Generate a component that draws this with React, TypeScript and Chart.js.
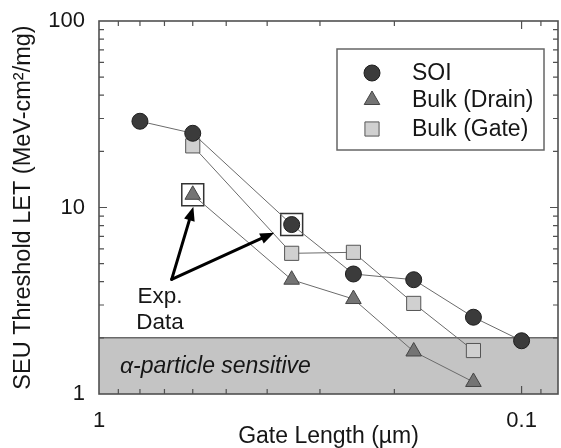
import React, { useEffect, useRef } from "react";
import { Chart, registerables } from "chart.js";

Chart.register(...registerables);

// ---- data ----
const soiGateLength = [0.8, 0.6, 0.35, 0.25, 0.18, 0.13, 0.1];
const soiLET = [29, 25, 8.1, 4.4, 4.1, 2.58, 1.93];
const bulkGateLength = [0.6, 0.35, 0.25, 0.18, 0.13];
const bulkDrainLET = [11.7, 4.1, 3.23, 1.69, 1.16];
const bulkGateLET = [21.4, 5.68, 5.75, 3.06, 1.71];
const expGateLength = [0.6, 0.35];
const expLET = [11.7, 8.1];
const seriesNames = ["SOI", "Bulk (Drain)", "Bulk (Gate)"];
const xTickValues = [1, 0.1];
const yTickValues = [1, 10, 100];
const alphaBand = [1, 2];
const alphaLabel = "α-particle sensitive";
const expLabelLines = ["Exp.", "Data"];
const expLabelAnchor = [0.717, 3.32, 2.4]; // x, y line1, y line2
const arrowOrigin = [0.673, 4.12];
const arrowTips = [
  [0.598, 10.1],
  [0.385, 7.33],
];

const FONT = "'Liberation Sans', Arial, Helvetica, sans-serif";
const TEXT = "#161616";

const styles = [
  { style: "circle", r: 8, fill: "#3b3b3b", stroke: "#1e1e1e" },
  { style: "triangle", r: 9, fill: "#747474", stroke: "#444" },
  { style: "rect", r: 10, fill: "#d0d0d0", stroke: "#555" },
];

function drawMarker(ctx: CanvasRenderingContext2D, s: any, x: number, y: number) {
  ctx.save();
  ctx.fillStyle = s.fill;
  ctx.strokeStyle = s.stroke;
  ctx.lineWidth = 1;
  ctx.beginPath();
  if (s.style === "circle") {
    ctx.arc(x, y, s.r, 0, Math.PI * 2);
  } else if (s.style === "triangle") {
    for (let i = 0; i < 3; i++) {
      const a = (i * 2 * Math.PI) / 3;
      const px = x + Math.sin(a) * s.r;
      const py = y - Math.cos(a) * s.r;
      if (i === 0) ctx.moveTo(px, py);
      else ctx.lineTo(px, py);
    }
    ctx.closePath();
  } else {
    const h = s.r * Math.SQRT1_2;
    ctx.rect(x - h, y - h, 2 * h, 2 * h);
  }
  ctx.fill();
  ctx.stroke();
  ctx.restore();
}

function drawArrow(ctx: CanvasRenderingContext2D, x0: number, y0: number, x1: number, y1: number) {
  const ang = Math.atan2(y1 - y0, x1 - x0);
  const head = 14;
  const half = 5.5;
  const bx = x1 - Math.cos(ang) * head;
  const by = y1 - Math.sin(ang) * head;
  ctx.save();
  ctx.strokeStyle = "#000";
  ctx.fillStyle = "#000";
  ctx.lineWidth = 3;
  ctx.lineCap = "round";
  ctx.beginPath();
  ctx.moveTo(x0, y0);
  ctx.lineTo(bx, by);
  ctx.stroke();
  ctx.beginPath();
  ctx.moveTo(x1, y1);
  ctx.lineTo(bx + Math.sin(ang) * half, by - Math.cos(ang) * half);
  ctx.lineTo(bx - Math.sin(ang) * half, by + Math.cos(ang) * half);
  ctx.closePath();
  ctx.fill();
  ctx.restore();
}

const decorPlugin = {
  id: "decor",
  beforeDatasetsDraw(chart: any) {
    const { ctx, chartArea: a, scales } = chart;
    const y = scales.y;
    const yTop = y.getPixelForValue(alphaBand[1]);
    const yBot = y.getPixelForValue(alphaBand[0]);
    ctx.save();
    ctx.fillStyle = "#c4c4c4";
    ctx.fillRect(a.left, yTop, a.right - a.left, yBot - yTop);
    ctx.strokeStyle = "#6a6a6a";
    ctx.lineWidth = 1.5;
    ctx.beginPath();
    ctx.moveTo(a.left, yTop);
    ctx.lineTo(a.right, yTop);
    ctx.stroke();
    ctx.fillStyle = TEXT;
    ctx.font = `italic 23px ${FONT}`;
    ctx.textAlign = "left";
    ctx.textBaseline = "middle";
    ctx.fillText(alphaLabel, a.left + 21, (yTop + yBot) / 2 + 1);
    ctx.restore();
  },
  afterDatasetsDraw(chart: any) {
    const { ctx, chartArea: a, scales } = chart;
    const x = scales.x;
    const y = scales.y;
    ctx.save();
    // frame
    ctx.strokeStyle = "#505050";
    ctx.lineWidth = 1.6;
    ctx.strokeRect(a.left, a.top, a.right - a.left, a.bottom - a.top);
    // y ticks (inward, both sides)
    ctx.lineWidth = 1.2;
    for (let d = 1; d <= 10; d *= 10) {
      for (let m = 1; m <= 9; m++) {
        const v = d * m;
        if (v <= 1 || v >= 100) continue;
        const py = y.getPixelForValue(v);
        const len = m === 1 ? 8 : 5;
        ctx.beginPath();
        ctx.moveTo(a.left, py);
        ctx.lineTo(a.left + len, py);
        ctx.moveTo(a.right, py);
        ctx.lineTo(a.right - len, py);
        ctx.stroke();
      }
    }
    // x ticks (inward, top and bottom)
    for (let d = 0.01; d <= 0.1 + 1e-9; d *= 10) {
      for (let m = 1; m <= 9; m++) {
        const v = d * m;
        if (v >= 1 || v < x.min) continue;
        const px = x.getPixelForValue(v);
        const len = m === 1 ? 8 : 5;
        ctx.beginPath();
        ctx.moveTo(px, a.bottom);
        ctx.lineTo(px, a.bottom - len);
        ctx.moveTo(px, a.top);
        ctx.lineTo(px, a.top + len);
        ctx.stroke();
      }
    }
    // arrows
    const ox = x.getPixelForValue(arrowOrigin[0]);
    const oy = y.getPixelForValue(arrowOrigin[1]);
    arrowTips.forEach(([tx, ty]) => {
      drawArrow(ctx, ox, oy, x.getPixelForValue(tx), y.getPixelForValue(ty));
    });
    // Exp. Data label
    ctx.fillStyle = TEXT;
    ctx.font = `22.5px ${FONT}`;
    ctx.textAlign = "center";
    ctx.textBaseline = "middle";
    const lx = x.getPixelForValue(expLabelAnchor[0]);
    ctx.fillText(expLabelLines[0], lx, y.getPixelForValue(expLabelAnchor[1]));
    ctx.fillText(expLabelLines[1], lx, y.getPixelForValue(expLabelAnchor[2]));
    // legend
    const L = a.right - 221;
    const T = a.top + 28;
    ctx.fillStyle = "#fff";
    ctx.fillRect(L, T, 207, 101);
    ctx.strokeStyle = "#666";
    ctx.lineWidth = 1.5;
    ctx.strokeRect(L, T, 207, 101);
    const rowsY = [24, 51, 80];
    seriesNames.forEach((name, i) => {
      drawMarker(ctx, styles[i], L + 35, T + rowsY[i]);
      ctx.fillStyle = TEXT;
      ctx.font = `23px ${FONT}`;
      ctx.textAlign = "left";
      ctx.textBaseline = "middle";
      ctx.fillText(name, L + 75, T + rowsY[i] + 1);
    });
    ctx.restore();
  },
};

function pts(xs: number[], ys: number[]) {
  return xs.map((v, i) => ({ x: v, y: ys[i] }));
}

function clearMargins(s: any) {
  s.paddingLeft = 0;
  s.paddingRight = 0;
  s.paddingTop = 0;
  s.paddingBottom = 0;
}

export default function App() {
  const ref = useRef<HTMLCanvasElement | null>(null);
  useEffect(() => {
    if (!ref.current) return;
    const lineColor = "#6b6b6b";
    const chart = new Chart(ref.current, {
      type: "line",
      data: {
        datasets: [
          {
            label: seriesNames[0],
            data: pts(soiGateLength, soiLET),
            borderColor: lineColor,
            borderWidth: 1,
            pointStyle: "circle",
            pointRadius: styles[0].r,
            pointBackgroundColor: styles[0].fill,
            pointBorderColor: styles[0].stroke,
            pointBorderWidth: 1,
          },
          {
            label: seriesNames[1],
            data: pts(bulkGateLength, bulkDrainLET),
            borderColor: lineColor,
            borderWidth: 1,
            pointStyle: "triangle",
            pointRadius: styles[1].r,
            pointBackgroundColor: styles[1].fill,
            pointBorderColor: styles[1].stroke,
            pointBorderWidth: 1,
          },
          {
            label: seriesNames[2],
            data: pts(bulkGateLength, bulkGateLET),
            borderColor: lineColor,
            borderWidth: 1,
            pointStyle: "rect",
            pointRadius: styles[2].r,
            pointBackgroundColor: styles[2].fill,
            pointBorderColor: styles[2].stroke,
            pointBorderWidth: 1,
          },
          {
            label: "Exp. Data",
            data: pts(expGateLength, expLET),
            showLine: false,
            pointStyle: "rect",
            pointRadius: 15.5,
            pointBackgroundColor: "rgba(0,0,0,0)",
            pointBorderColor: "#333",
            pointBorderWidth: 1.5,
          },
        ],
      },
      options: {
        responsive: false,
        animation: false,
        devicePixelRatio: 1,
        layout: { autoPadding: false, padding: { top: 21, right: 3, left: 0, bottom: 0 } },
        plugins: { legend: { display: false }, tooltip: { enabled: false } },
        scales: {
          x: {
            type: "logarithmic",
            reverse: true,
            min: 0.082,
            max: 1,
            grid: { display: false, drawTicks: false },
            border: { display: false },
            afterBuildTicks: (s: any) => {
              s.ticks = xTickValues.map((v) => ({ value: v }));
            },
            ticks: {
              autoSkip: false,
              maxRotation: 0,
              padding: 14,
              color: TEXT,
              font: { family: FONT, size: 22 },
              callback: (v: any) => String(v),
            },
            title: {
              display: true,
              text: "Gate Length (µm)",
              color: TEXT,
              font: { family: FONT, size: 23, lineHeight: 1 },
              padding: { top: 0, bottom: 0 },
            },
            afterFit: (s: any) => {
              s.height = 54;
              clearMargins(s);
            },
          } as any,
          y: {
            type: "logarithmic",
            min: 1,
            max: 100,
            grid: { display: false, drawTicks: false },
            border: { display: false },
            afterBuildTicks: (s: any) => {
              s.ticks = yTickValues.map((v) => ({ value: v }));
            },
            ticks: {
              autoSkip: false,
              padding: 14,
              color: TEXT,
              font: { family: FONT, size: 22 },
              callback: (v: any) => String(v),
            },
            title: {
              display: true,
              text: "SEU Threshold LET (MeV-cm²/mg)",
              color: TEXT,
              font: { family: FONT, size: 23.5, lineHeight: 1 },
              padding: { top: 12, bottom: 0 },
            },
            afterFit: (s: any) => {
              s.width = 99;
              clearMargins(s);
            },
          } as any,
        },
      },
      plugins: [decorPlugin],
    });
    return () => chart.destroy();
  }, []);
  return (
    <div style={{ position: "fixed", left: 0, top: 0, width: 561, height: 448, background: "#fff" }}>
      <canvas ref={ref} width={561} height={448} />
    </div>
  );
}
